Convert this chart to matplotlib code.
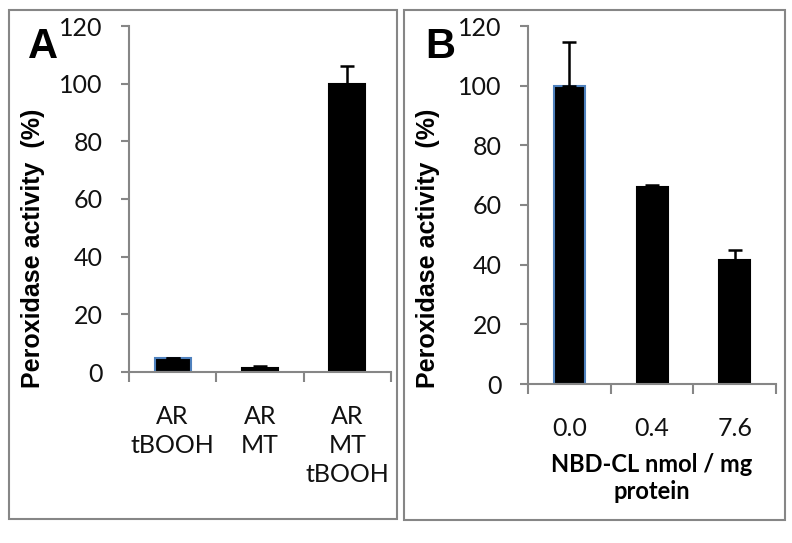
import matplotlib
matplotlib.use("Agg")
import matplotlib.pyplot as plt
from matplotlib.patches import Rectangle

# panel A data
cats_a = ["AR\ntBOOH", "AR\nMT", "AR\nMT\ntBOOH"]
vals_a = [5.0, 1.5, 100.0]
errs_a = [0.0, 0.5, 6.0]

# panel B data
cats_b = ["0.0", "0.4", "7.6"]
vals_b = [100.0, 66.0, 41.5]
errs_b = [14.5, 0.6, 3.5]

W, H = 792, 543
fig = plt.figure(figsize=(W / 100, H / 100), dpi=100)

def fx(x):
    return x / W

def fy(y):
    return 1 - y / H

tick_font = "Lato"
label_font = "Liberation Sans"
grey = "#868686"

def style_axes(ax, cats, vals, errs, width, first_edge):
    x = list(range(len(cats)))
    ax.bar(x, vals, width=width, color="black", edgecolor="black", linewidth=1.5, zorder=2)
    ax.patches[0].set_edgecolor(first_edge)
    ax.errorbar(x, vals, yerr=[[0] * len(errs), errs], fmt="none", ecolor="black",
                elinewidth=1.8, capsize=5, capthick=1.8, zorder=3)
    ax.set_xlim(-0.5, len(cats) - 0.5)
    ax.set_ylim(0, 120)
    ax.set_yticks(range(0, 121, 20))
    ax.set_xticks([i - 0.5 for i in range(len(cats) + 1)])
    ax.set_xticklabels([])
    ax.set_xticks(x, minor=True)
    ax.set_xticklabels(cats, minor=True, fontsize=18, family=tick_font, color="#111111",
                       linespacing=1.3)
    ax.tick_params(axis="x", which="minor", length=0, pad=24)
    ax.tick_params(axis="x", which="major", length=7, width=1.5, color=grey, direction="out")
    ax.tick_params(axis="y", length=6, width=1.5, color=grey, direction="out", pad=13)
    for lab in ax.get_yticklabels():
        lab.set_fontsize(18)
        lab.set_family(tick_font)
        lab.set_color("#111111")
    for side in ["top", "right"]:
        ax.spines[side].set_visible(False)
    for side in ["left", "bottom"]:
        ax.spines[side].set_color(grey)
        ax.spines[side].set_linewidth(1.5)
    for lab in ax.get_xticklabels(minor=True):
        lab.set_verticalalignment("top")

# panel A
ax_a = fig.add_axes([fx(129), fy(372), fx(391) - fx(129), fy(26) - fy(372)])
style_axes(ax_a, cats_a, vals_a, errs_a, 0.41, "#4f81bd")

# panel B
ax_b = fig.add_axes([fx(528), fy(384), fx(776) - fx(528), fy(26) - fy(384)])
style_axes(ax_b, cats_b, vals_b, errs_b, 0.375, "#4f81bd")

# y labels
fig.text(fx(33), fy(248), "Peroxidase activity  (%)", rotation=90, ha="center", va="center",
         fontsize=18, fontweight="bold", family=label_font)
fig.text(fx(428), fy(248), "Peroxidase activity  (%)", rotation=90, ha="center", va="center",
         fontsize=18, fontweight="bold", family=label_font)

# x label for B
fig.text(fx(652), fy(478), "NBD-CL nmol / mg\nprotein", ha="center", va="center",
         fontsize=17, fontweight="bold", family=tick_font, linespacing=1.25)

# panel letters
fig.text(fx(43), fy(47), "A", ha="center", va="center", fontsize=30, fontweight="bold",
         family=label_font)
fig.text(fx(440), fy(47), "B", ha="center", va="center", fontsize=30, fontweight="bold",
         family=label_font)

# panel borders
for x0, x1, y0, y1 in [(9, 397, 10, 519), (404, 785, 10, 520)]:
    fig.add_artist(Rectangle((fx(x0), fy(y1)), fx(x1) - fx(x0), fy(y0) - fy(y1),
                             transform=fig.transFigure, fill=False, edgecolor=grey,
                             linewidth=1.5))

fig.savefig("out.png", dpi=100)
